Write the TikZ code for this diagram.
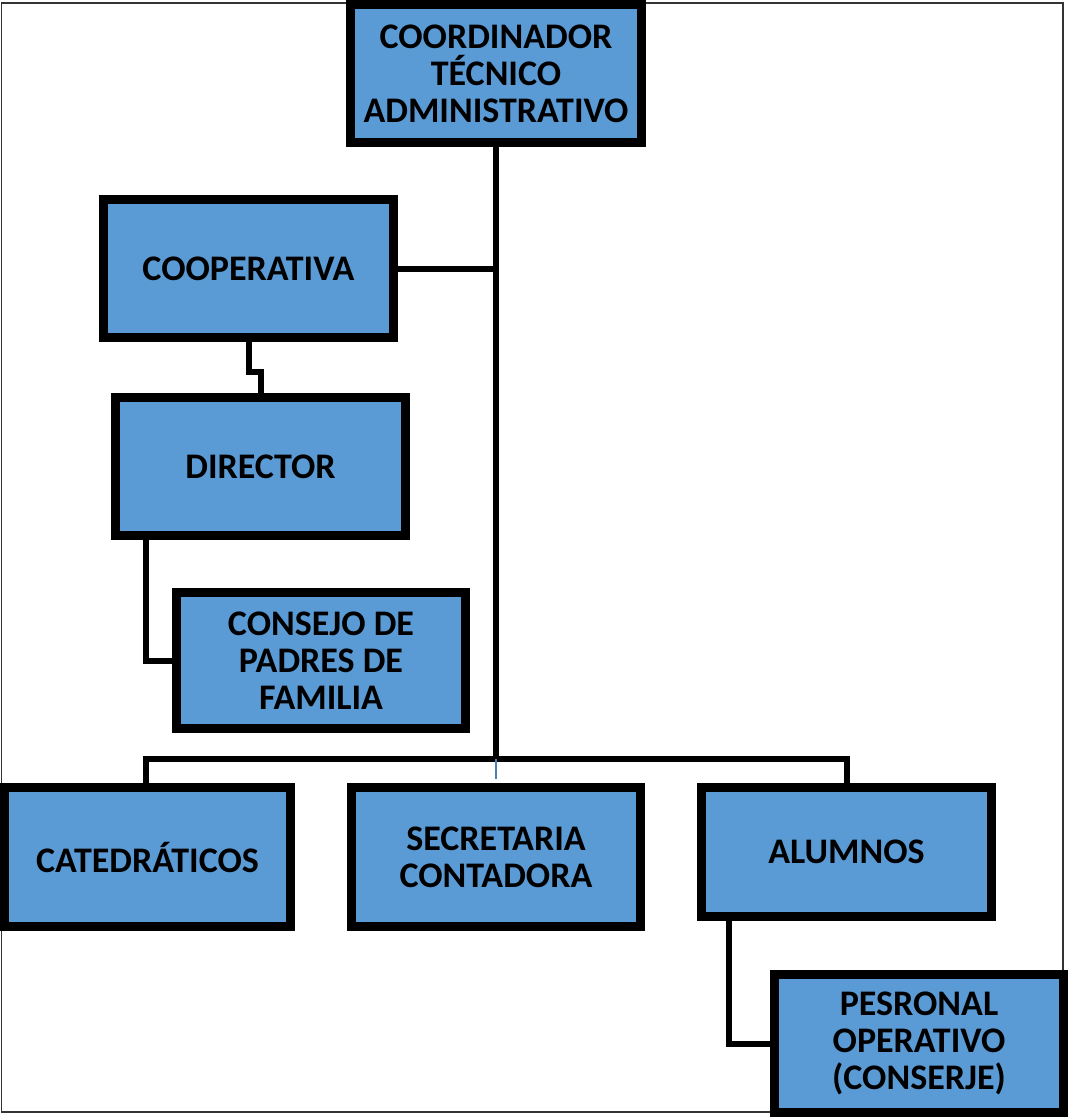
\documentclass[tikz,border=0pt]{standalone}
\usepackage{fontspec}
\setmainfont{Carlito}
\definecolor{boxblue}{HTML}{5B9BD5}
\definecolor{thinblue}{HTML}{4A7EBB}
\begin{document}
\begin{tikzpicture}[x=1pt,y=-1pt,
  orgbox/.style={draw=black, line width=9pt, fill=boxblue, inner sep=0pt, align=center,
    text=black, font=\bfseries\fontsize{36}{37}\selectfont},
  conn/.style={draw=black, line width=6pt},
  frameline/.style={draw=black!80, line width=1.5pt}]
\useasboundingbox (0,0) rectangle (1068,1117);
\draw[frameline] (1.5,3) rectangle (1063,1112);
% nodes
\node[orgbox, minimum width=291pt, minimum height=138pt] (coord) at (496,73.5) {COORDINADOR\\TÉCNICO\\ADMINISTRATIVO};
\node[orgbox, minimum width=290pt, minimum height=138pt] (coop) at (248.5,268.5) {COOPERATIVA};
\node[orgbox, minimum width=290pt, minimum height=138pt] (dir) at (260.5,466.5) {DIRECTOR};
\node[orgbox, minimum width=289pt, minimum height=136pt] (cons) at (321,660.5) {CONSEJO DE\\PADRES DE\\FAMILIA};
\node[orgbox, minimum width=286pt, minimum height=139pt] (cat) at (147.5,857) {CATEDRÁTICOS};
\node[orgbox, minimum width=289pt, minimum height=139pt] (sec) at (496,857) {SECRETARIA\\CONTADORA};
\node[orgbox, minimum width=290pt, minimum height=129pt] (alu) at (846.5,852) {ALUMNOS};
\node[orgbox, minimum width=289pt, minimum height=138pt] (pers) at (919,1043.5) {PESRONAL\\OPERATIVO\\(CONSERJE)};
% helper coordinates
\coordinate (bus) at (496,759);
\coordinate (dcx) at (146,0);
\coordinate (apx) at (729,0);
\path (sec.north) ++(0,-4.5) coordinate (secTop);
% connectors
\draw[conn] (coord.south) -- (bus);
\draw[conn] (coop.east) -- (coop.east -| coord.south);
\draw[conn] (coop.south) -- ++(0,29.5) -| (dir.north);
\draw[conn] (dir.south -| dcx) |- (cons.west);
\draw[conn] (cat.north -| dcx) -- (dcx |- bus) -- (alu.north |- bus) -- (alu.north);
\draw[thinblue, line width=1.5pt] (bus) -- (secTop);
\draw[conn] (alu.south -| apx) |- (pers.west);
\end{tikzpicture}
\end{document}
